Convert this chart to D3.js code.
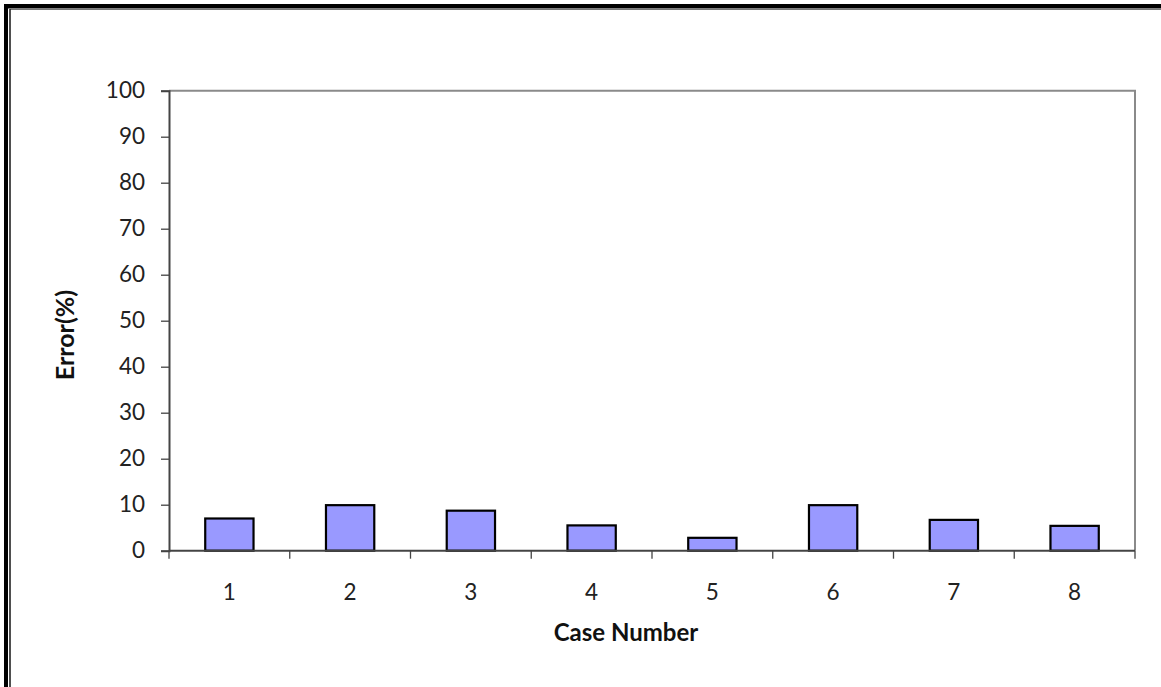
<!DOCTYPE html>
<html><head><meta charset="utf-8">
<script src="https://cdn.jsdelivr.net/npm/d3@7"></script>
<style>html,body{margin:0;padding:0;background:#fff;}svg{display:block;}</style>
</head><body>
<svg id="c" width="1161" height="687"></svg>
<script>
const categories = ["1","2","3","4","5","6","7","8"];
const errorValues = [7.0, 9.9, 8.7, 5.5, 2.8, 9.9, 6.7, 5.4];
const yTicks = [0,10,20,30,40,50,60,70,80,90,100];
const xTitle = "Case Number";
const yTitle = "Error(%)";

const svg = d3.select("#c");
const font = "Lato, 'Open Sans', sans-serif";

// frame
svg.append("rect").attr("x",4).attr("y",4).attr("width",1157).attr("height",4.5).attr("fill","#000");
svg.append("rect").attr("x",4).attr("y",4).attr("width",4).attr("height",683).attr("fill","#000");
svg.append("line").attr("x1",10).attr("x2",1161).attr("y1",9.5).attr("y2",9.5).attr("stroke","#777").attr("stroke-width",1.2);
svg.append("line").attr("x1",10).attr("x2",10).attr("y1",9).attr("y2",687).attr("stroke","#222").attr("stroke-width",1.6);

const L = 169, R = 1135, T = 90.7, B = 550.7;
const x = d3.scaleBand().domain(categories).range([L, R]).paddingInner(0.6).paddingOuter(0.3);
const y = d3.scaleLinear().domain([0,100]).range([B, T]);

// plot border top/right
svg.append("path").attr("d",`M${L},${T}H${R}V${B}`).attr("fill","none").attr("stroke","#8a8a8a").attr("stroke-width",2);

// bars
svg.append("g").selectAll("rect").data(categories).join("rect")
  .attr("x", d => x(d))
  .attr("width", x.bandwidth())
  .attr("y", (d,i) => y(errorValues[i]))
  .attr("height", (d,i) => y(0) - y(errorValues[i]))
  .attr("fill", "#9999ff").attr("stroke", "#000").attr("stroke-width", 2.2);

// y axis
const ya = svg.append("g").attr("transform",`translate(${L},0)`)
  .call(d3.axisLeft(y).tickValues(yTicks).tickSize(8).tickPadding(16).tickFormat(d3.format("d")));
ya.select(".domain").attr("stroke","#444").attr("stroke-width",2);
ya.selectAll(".tick line").attr("stroke","#444").attr("stroke-width",1.3);
ya.selectAll("text").attr("font-family",font).attr("font-size",22.5).attr("fill","#222");

// x axis with ticks at category boundaries
const bounds = d3.range(categories.length+1).map(i => L + i*(R-L)/categories.length);
const xa = svg.append("g");
xa.append("line").attr("x1",L).attr("x2",R).attr("y1",B).attr("y2",B).attr("stroke","#444").attr("stroke-width",2);
xa.selectAll("line.t").data(bounds).join("line").attr("class","t")
  .attr("x1",d=>d).attr("x2",d=>d).attr("y1",B).attr("y2",B+8).attr("stroke","#444").attr("stroke-width",1.3);
xa.selectAll("text").data(categories).join("text")
  .attr("x", d => x(d) + x.bandwidth()/2).attr("y", 592).attr("dy","0.35em")
  .attr("text-anchor","middle").attr("font-family",font).attr("font-size",22.5).attr("fill","#222").text(d=>d);

svg.append("text").attr("x",626).attr("y",633).attr("dy","0.35em").attr("text-anchor","middle")
  .attr("font-family",font).attr("font-weight","bold").attr("font-size",24).attr("fill","#111").text(xTitle);
svg.append("text").attr("transform","translate(65,335) rotate(-90)").attr("dy","0.35em").attr("text-anchor","middle")
  .attr("font-family",font).attr("font-weight","bold").attr("font-size",25).attr("fill","#111").text(yTitle);
</script>
</body></html>
